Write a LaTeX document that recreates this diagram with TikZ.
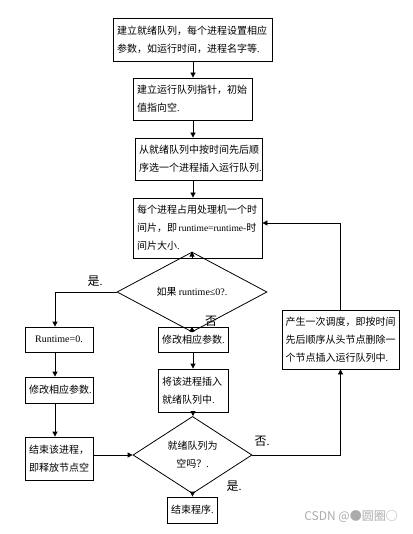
\documentclass[tikz,border=0pt]{standalone}
\usepackage{fontspec}
\setmainfont{Noto Sans CJK SC}
\newfontfamily\latf{Liberation Serif}
\usetikzlibrary{arrows.meta,shapes.geometric}
\newcommand\pmk{{\latf .}}
\begin{document}
\begin{tikzpicture}[x=1pt,y=-1pt,
  box/.style={draw, line width=0.8pt, align=left, inner xsep=4pt, inner ysep=0pt, font=\fontsize{10}{18}\selectfont},
  dia/.style={draw, diamond, line width=0.8pt, inner sep=0pt, align=center, font=\fontsize{10}{18}\selectfont},
  arr/.style={-{Triangle[length=5pt,width=5pt]}, line width=0.8pt},
  lab/.style={font=\fontsize{12}{12}\selectfont, inner sep=0pt}]
\fill[white] (0,0) rectangle (412,534);
\useasboundingbox (0,0) rectangle (412,534);

\node[box, text width=151pt, minimum height=43pt] (b1) at (192.5,39.5) {建立就绪队列，每个进程设置相应\\参数，如运行时间，进程名字等\pmk};
\node[box, text width=111pt, minimum height=42pt] (b2) at (192.5,99) {建立运行队列指针，初始\\值指向空\pmk};
\node[box, text width=119pt, minimum height=42pt] (b3) at (198.5,159) {从就绪队列中按时间先后顺\\序选一个进程插入运行队列\pmk};
\node[box, text width=121pt, minimum height=60pt] (b4) at (197.5,228) {每个进程占用处理机一个时\\\mbox{间片，即\,{\latf\fontsize{9.5}{18}\selectfont runtime=runtime-}时}\\间片大小\pmk};
\node[dia, minimum width=150pt, minimum height=51pt] (d1) at (192,292) {如果 {\latf runtime≤0?.}};
\node[box, align=center, text width=60pt, minimum height=25pt] (rt0) at (59,339.5) {{\latf Runtime=0.}};
\node[box, text width=62pt, minimum height=25pt] (m1) at (193,339.5) {修改相应参数\pmk};
\node[box, text width=62pt, minimum height=43pt] (ins) at (193,390.5) {将该进程插入\\就绪队列中\pmk};
\node[box, text width=60pt, minimum height=26pt] (m2) at (59,390) {修改相应参数\pmk};
\node[box, text width=60pt, minimum height=43pt] (ep) at (59,458.5) {结束该进程，\\即释放节点空};
\node[dia, minimum width=119pt, minimum height=68pt] (d2) at (192.5,455) {就绪队列为\\空吗？\pmk};
\node[box, text width=42pt, minimum height=26pt] (end) at (192,510) {结束程序\pmk};
\node[box, inner xsep=3.5pt, text width=110pt, minimum height=59pt] (rb) at (340.5,339.5) {产生一次调度，即按时间\\先后顺序从头节点删除一\\个节点插入运行队列中\pmk};

\coordinate (ax) at (193,0);
\coordinate (lx) at (55,0);
\coordinate (ty) at (0,223);
\draw[arr] (b1.south -| ax) -- (b2.north -| ax);
\draw[arr] (b2.south -| ax) -- (b3.north -| ax);
\draw[arr] (b3.south -| ax) -- (b4.north -| ax);
\draw[arr] (b4.south -| d1.north) -- (d1.north);
\draw[arr] (d1.west) -| (rt0.north -| lx);
\draw[arr] (rt0.south -| lx) -- (m2.north -| lx);
\draw[arr] (m2.south -| lx) -- (ep.north -| lx);
\draw[arr] (d1.south) -- (m1.north -| d1.south);
\draw[arr] (m1.south) -- (ins.north);
\draw[arr] (ins.south) -- (d2.north -| ins.south);
\draw[arr] (d2.south) -- (end.north -| d2.south);
\draw[arr] (ep.east |- d2.west) -- (d2.west);
\draw[arr] (d2.east) -| (rb.south);
\draw[arr] (rb.north) |- (b4.east |- ty);

\node[lab] (l1) at (95,281) {是\pmk};
\node[lab] (l2) at (211,321) {否};
\node[lab] (l3) at (262,441) {否\pmk};
\node[lab] (l4) at (234,486) {是\pmk};
\node[font=\fontsize{12}{12}\selectfont, text=gray!65, anchor=east, inner sep=0pt] (wm) at (398,517) {CSDN @●圆圈○};
\end{tikzpicture}
\end{document}
